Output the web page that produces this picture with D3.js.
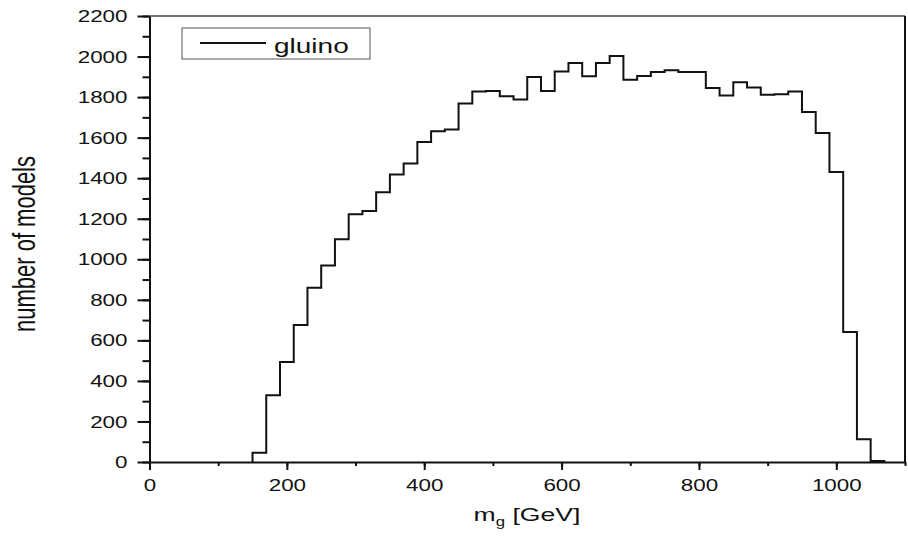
<!DOCTYPE html>
<html>
<head>
<meta charset="utf-8">
<script src="https://cdn.jsdelivr.net/npm/d3@7"></script>
<style>
  body { margin: 0; background: #fff; }
  text { font-family: "Liberation Sans", Arial, sans-serif; fill: #111; }
</style>
</head>
<body>
<script>
    //Global variables
        const width = 908;
        const height = 540;
        const plotLeft = 149.5, plotRight = 905, plotTop = 16, plotBottom = 462;
        const stretch = 1.4;   // the picture is wider than tall, text looks stretched

    //Data: left edge of each 20 GeV bin and its count
        const binStart = [150, 170, 190, 210, 230, 250, 270, 290, 310, 330,
                          350, 370, 390, 410, 430, 450, 470, 490, 510, 530,
                          550, 570, 590, 610, 630, 650, 670, 690, 710, 730,
                          750, 770, 790, 810, 830, 850, 870, 890, 910, 930,
                          950, 970, 990, 1010, 1030, 1050];
        const binWidth = 20;
        const gluino = [46, 329, 493, 676, 860, 969, 1099, 1222, 1238, 1330,
                        1418, 1472, 1579, 1631, 1640, 1768, 1827, 1830, 1804, 1788,
                        1899, 1830, 1926, 1968, 1903, 1968, 2003, 1886, 1904, 1924,
                        1932, 1924, 1924, 1845, 1808, 1873, 1847, 1811, 1814, 1827,
                        1727, 1623, 1431, 641, 112, 5];
        const xTicks = [0, 200, 400, 600, 800, 1000];
        const yTicks = [0, 200, 400, 600, 800, 1000, 1200, 1400, 1600, 1800, 2000, 2200];

    //Scales
        const xScale = d3.scaleLinear().domain([0, 1100]).range([plotLeft, plotRight]);
        const yScale = d3.scaleLinear().domain([0, 2200]).range([plotBottom, plotTop]);

    //SVG element
        const svg = d3.select("body").append("svg")
                    .attr("width", width)
                    .attr("height", height);

    //Frame (top and right)
        svg.append("line")
            .attr("x1", plotLeft).attr("x2", plotRight).attr("y1", plotTop).attr("y2", plotTop)
            .attr("stroke", "#444").attr("stroke-width", 1.5);
        svg.append("line")
            .attr("x1", plotRight).attr("x2", plotRight).attr("y1", plotTop).attr("y2", plotBottom)
            .attr("stroke", "#111").attr("stroke-width", 2);

    //Histogram as a step line
        const pts = [[binStart[0], 0]];
        binStart.forEach((b, i) => {
            pts.push([b, gluino[i]]);
            pts.push([b + binWidth, gluino[i]]);
        });
        pts.push([binStart[binStart.length - 1] + binWidth, 0]);

        const line = d3.line()
                       .x(d => xScale(d[0]))
                       .y(d => yScale(d[1]));

        svg.append("path")
            .attr("d", line(pts))
            .attr("fill", "none")
            .attr("stroke", "#111")
            .attr("stroke-width", 2);

    //Axes
        //minor ticks every 100
        svg.append("g")
            .attr("transform", "translate(0," + plotBottom + ")")
            .call(d3.axisBottom(xScale).tickValues(d3.range(0, 1101, 100)).tickSize(4).tickFormat(""))
            .call(g => g.select(".domain").remove())
            .selectAll("line").attr("stroke", "#111").attr("stroke-width", 2);
        svg.append("g")
            .attr("transform", "translate(" + plotLeft + ",0)")
            .call(d3.axisLeft(yScale).tickValues(d3.range(0, 2201, 100)).tickSize(7).tickFormat(""))
            .call(g => g.select(".domain").remove())
            .selectAll("line").attr("stroke", "#111").attr("stroke-width", 2);

        const xAxis = svg.append("g")
            .attr("transform", "translate(0," + plotBottom + ")")
            .call(d3.axisBottom(xScale).tickValues(xTicks).tickFormat(d3.format("d"))
                    .tickSize(8).tickSizeOuter(0));
        xAxis.select(".domain").attr("stroke", "#111").attr("stroke-width", 2);
        xAxis.selectAll("line").attr("stroke", "#111").attr("stroke-width", 2);
        xAxis.selectAll("text")
            .attr("y", 0).attr("dy", 0)
            .attr("transform", "translate(0,29) scale(" + stretch + ",1)")
            .attr("font-size", 16)
            .attr("fill", "#111");

        const yAxis = svg.append("g")
            .attr("transform", "translate(" + plotLeft + ",0)")
            .call(d3.axisLeft(yScale).tickValues(yTicks).tickFormat(d3.format("d"))
                    .tickSize(12).tickSizeOuter(0));
        yAxis.select(".domain").attr("stroke", "#111").attr("stroke-width", 2);
        yAxis.selectAll("line").attr("stroke", "#111").attr("stroke-width", 2);
        yAxis.selectAll("text")
            .attr("x", 0).attr("dy", "0.35em")
            .attr("transform", "translate(-22,0) scale(" + stretch + ",1)")
            .attr("font-size", 16)
            .attr("fill", "#111");

    //Axis titles
        const xTitle = svg.append("text")
            .attr("transform", "translate(527,521) scale(" + stretch + ",1)")
            .attr("text-anchor", "middle")
            .attr("font-size", 19);
        xTitle.append("tspan").text("m");
        xTitle.append("tspan").attr("font-size", 12).attr("dy", 5).text("g");
        xTitle.append("tspan").attr("dy", -5).text(" [GeV]");

        svg.append("text")
            .attr("transform", "translate(35,244) scale(" + stretch + ",1) rotate(-90)")
            .attr("text-anchor", "middle")
            .attr("font-size", 22)
            .text("number of models");

    //Legend
        svg.append("rect")
            .attr("x", 182).attr("y", 28).attr("width", 188).attr("height", 31)
            .attr("fill", "#fff").attr("stroke", "#555").attr("stroke-width", 1);
        svg.append("line")
            .attr("x1", 200).attr("x2", 266).attr("y1", 43).attr("y2", 43)
            .attr("stroke", "#111").attr("stroke-width", 2);
        svg.append("text")
            .attr("transform", "translate(274,52.5) scale(" + stretch + ",1)")
            .attr("font-size", 20)
            .text("gluino");
</script>
</body>
</html>
